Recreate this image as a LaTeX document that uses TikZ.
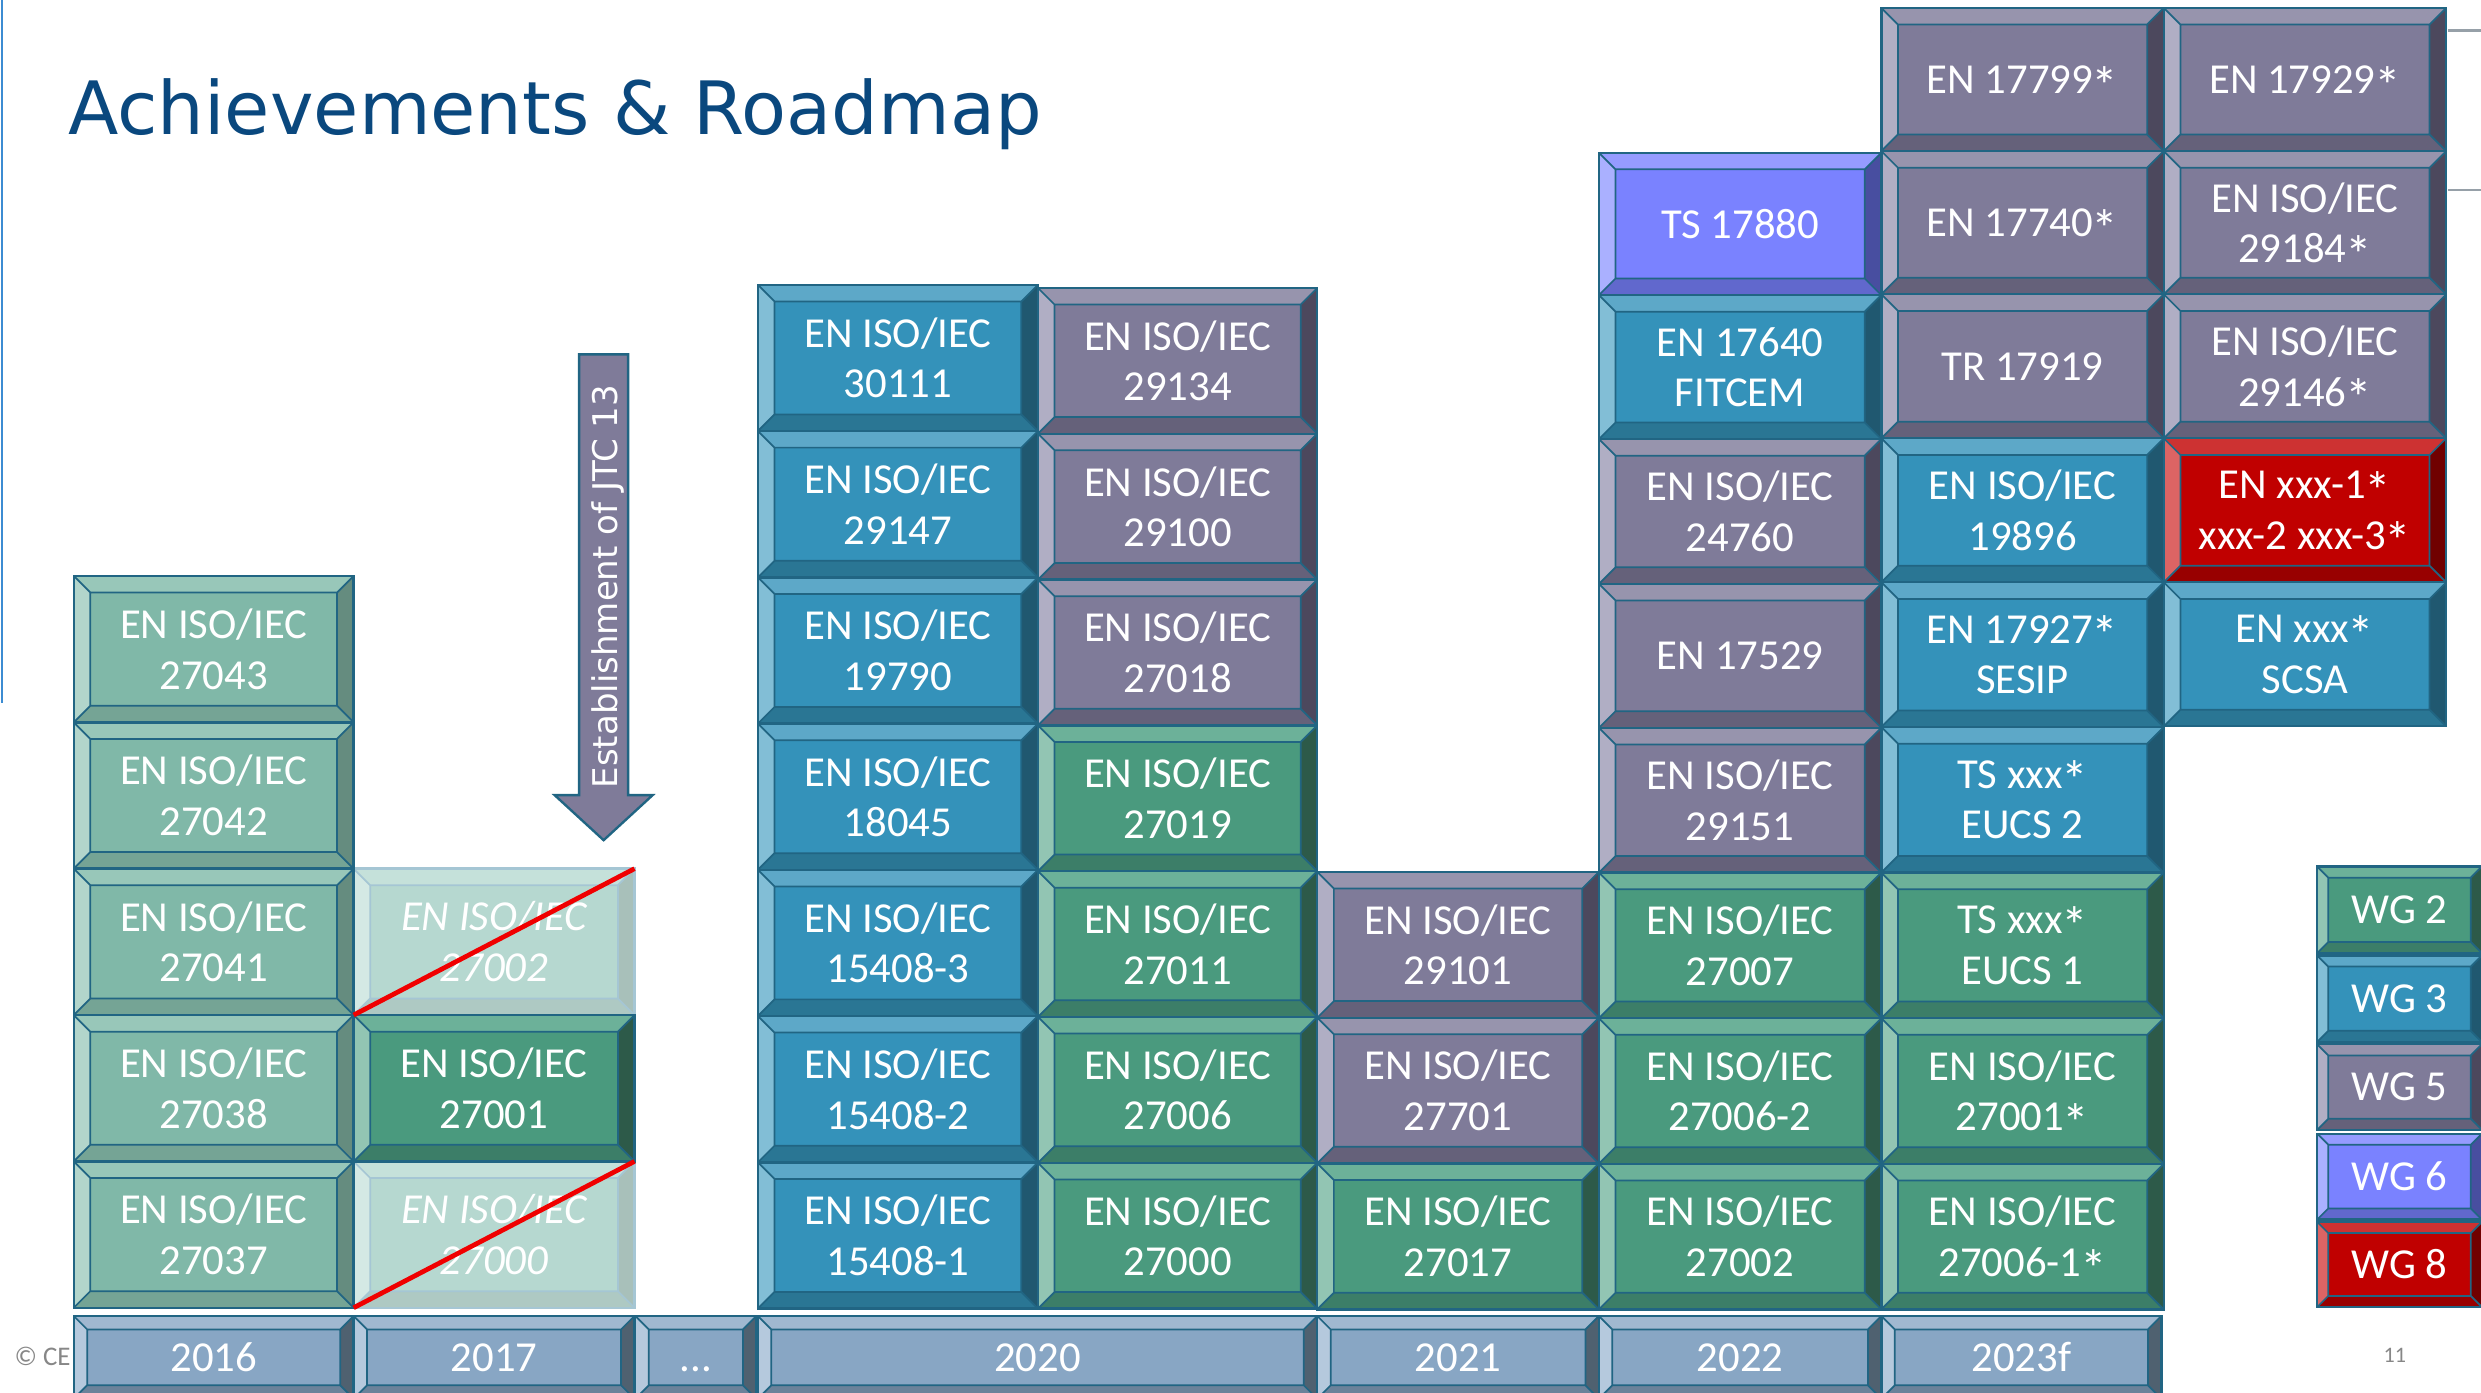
\documentclass[tikz,border=0pt]{standalone}
\usepackage{graphicx}
\usepackage{fontspec}
\setmainfont{Carlito}
\newfontfamily\titlefont{DejaVu Sans}
\usetikzlibrary{calc}

% frame and text colours
\definecolor{edge}{RGB}{33,101,131}
\definecolor{titleblue}{RGB}{10,72,126}
\definecolor{footgray}{RGB}{135,135,135}
\definecolor{sideblue}{RGB}{60,140,210}
\definecolor{rulegray}{RGB}{150,160,168}
\definecolor{strike}{RGB}{240,0,0}
% light green (face, top, left, right, bottom)
\definecolor{lgF}{RGB}{128,184,168}\definecolor{lgT}{RGB}{152,199,185}
\definecolor{lgL}{RGB}{178,213,203}\definecolor{lgR}{RGB}{101,140,127}
\definecolor{lgB}{RGB}{117,164,149}
% dark green
\definecolor{dgF}{RGB}{74,154,126}\definecolor{dgT}{RGB}{108,177,153}
\definecolor{dgL}{RGB}{146,197,179}\definecolor{dgR}{RGB}{45,90,73}
\definecolor{dgB}{RGB}{60,126,104}
% blue
\definecolor{blF}{RGB}{52,146,186}\definecolor{blT}{RGB}{93,168,200}
\definecolor{blL}{RGB}{130,190,214}\definecolor{blR}{RGB}{32,88,112}
\definecolor{blB}{RGB}{42,118,148}
% grey purple
\definecolor{puF}{RGB}{127,123,153}\definecolor{puT}{RGB}{151,148,173}
\definecolor{puL}{RGB}{176,174,196}\definecolor{puR}{RGB}{76,72,93}
\definecolor{puB}{RGB}{101,97,122}
% violet
\definecolor{viF}{RGB}{122,130,255}\definecolor{viT}{RGB}{149,155,255}
\definecolor{viL}{RGB}{170,176,255}\definecolor{viR}{RGB}{72,78,160}
\definecolor{viB}{RGB}{97,104,205}
% red
\definecolor{rdF}{RGB}{192,0,0}\definecolor{rdT}{RGB}{205,50,50}
\definecolor{rdL}{RGB}{220,100,100}\definecolor{rdR}{RGB}{112,0,0}
\definecolor{rdB}{RGB}{152,0,0}
% year bar
\definecolor{yrF}{RGB}{136,166,196}\definecolor{yrT}{RGB}{160,184,208}
\definecolor{yrL}{RGB}{181,201,221}\definecolor{yrR}{RGB}{79,97,112}
\definecolor{yrB}{RGB}{107,130,154}
% withdrawn (faded)
\definecolor{fdF}{RGB}{182,216,208}\definecolor{fdT}{RGB}{197,225,218}
\definecolor{fdL}{RGB}{212,233,228}\definecolor{fdR}{RGB}{168,192,186}
\definecolor{fdB}{RGB}{174,201,195}\definecolor{fdE}{RGB}{165,198,212}

\newcommand\boxfont{\fontsize{27}{32}\selectfont}
% slightly enlarged asterisk marking drafts in progress
\newcommand\astr{\kern-0.03em\smash{\raisebox{-0.25em}{\scalebox{1.25}{*}}}}
\def\bvF{lgF}\def\bvT{lgT}\def\bvL{lgL}\def\bvR{lgR}\def\bvB{lgB}\def\bvE{edge}

% four bevel faces plus the inner frame, drawn inside a node
\newcommand\bevelfaces{%
  \coordinate (oNW) at (path picture bounding box.north west);
  \coordinate (oNE) at (path picture bounding box.north east);
  \coordinate (oSW) at (path picture bounding box.south west);
  \coordinate (oSE) at (path picture bounding box.south east);
  \coordinate (iNW) at ($(oNW)+(\bevd pt,-\bevd pt)$);
  \coordinate (iNE) at ($(oNE)+(-\bevd pt,-\bevd pt)$);
  \coordinate (iSW) at ($(oSW)+(\bevd pt,\bevd pt)$);
  \coordinate (iSE) at ($(oSE)+(-\bevd pt,\bevd pt)$);
  \fill[fill=\bvT] (oNW) -- (oNE) -- (iNE) -- (iNW) -- cycle;
  \fill[fill=\bvL] (oNW) -- (oSW) -- (iSW) -- (iNW) -- cycle;
  \fill[fill=\bvR] (oNE) -- (oSE) -- (iSE) -- (iNE) -- cycle;
  \fill[fill=\bvB] (oSW) -- (oSE) -- (iSE) -- (iSW) -- cycle;
  \draw[draw=\bvE, line width=1.1pt] (iNW) rectangle (iSE)
    (oNW) -- (iNW) (oNE) -- (iNE) (oSW) -- (iSW) (oSE) -- (iSE);
}

\tikzset{
  bevd/.store in=\bevd, bevd=10.5,
  bvset/.code n args={6}{\def\bvF{#1}\def\bvT{#2}\def\bvL{#3}\def\bvR{#4}\def\bvB{#5}\def\bvE{#6}},
  bevel/.style={shape=rectangle, draw=\bvE, fill=\bvF, line width=1.5pt,
    inner sep=0pt, outer sep=0pt, text=white, align=center, font=\boxfont,
    path picture={\bevelfaces}},
  lgreen/.style={bvset={lgF}{lgT}{lgL}{lgR}{lgB}{edge}, bevel},
  dgreen/.style={bvset={dgF}{dgT}{dgL}{dgR}{dgB}{edge}, bevel},
  blue/.style={bvset={blF}{blT}{blL}{blR}{blB}{edge}, bevel},
  purple/.style={bvset={puF}{puT}{puL}{puR}{puB}{edge}, bevel},
  violet/.style={bvset={viF}{viT}{viL}{viR}{viB}{edge}, bevel},
  redbox/.style={bvset={rdF}{rdT}{rdL}{rdR}{rdB}{edge}, bevel},
  yearbar/.style={bvset={yrF}{yrT}{yrL}{yrR}{yrB}{edge}, bevel, bevd=8.5},
  withdrawn/.style={bvset={fdF}{fdT}{fdL}{fdR}{fdB}{fdE}, bevel, font=\boxfont\itshape},
  legend/.style={bevd=7},
  strikeout/.style={draw=strike, line width=3pt},
  jtcarrow/.style={fill=puF, draw=edge, line width=1.5pt, line join=miter},
  jtctext/.style={text=white, inner sep=0pt, font=\titlefont\fontsize{21.5}{26}\selectfont},
  footer/.style={text=footgray, inner sep=0pt},
}

% \slab{name}{style}{x0}{y0}{x1}{y1}{text}
\newcommand\slab[7]{%
  \pgfmathsetmacro\slw{#5-#3}\pgfmathsetmacro\slh{#6-#4}%
  \node[#2, minimum width=\slw pt, minimum height=\slh pt] (#1)
    at ({(#3+#5)/2},{(#4+#6)/2}) {#7};%
}

\begin{document}
\begin{tikzpicture}[x=1pt, y=-1pt]
\useasboundingbox (0,0) rectangle (1568,880);
\clip (0,0) rectangle (1568,880);

% page furniture
\coordinate (sideTop) at (1,0);
\coordinate (sideBot) at (1,444);
\draw[sideblue, line width=1.3pt] (sideTop) -- (sideBot);
\coordinate (ruleAa) at (1547,19.4);
\coordinate (ruleAb) at (1570,19.4);
\coordinate (ruleBa) at (1547,120);
\coordinate (ruleBb) at (1570,120);
\draw[rulegray, line width=1.7pt] (ruleAa) -- (ruleAb) (ruleBa) -- (ruleBb);

\node[anchor=base west, inner sep=0pt, text=titleblue,
      font=\titlefont\fontsize{46.5}{56}\selectfont] (title) at (43,84.7)
      {Achievements \& Roadmap};

\node[footer, anchor=base west, font=\fontsize{17}{20}\selectfont] (copy) at (9,862.7) {© CE};
\node[footer, anchor=base, font=\fontsize{14}{17}\selectfont] (page) at (1513.6,861) {11};

% 2017: withdrawn standards first, so neighbours' frames lie on top
\slab{c17a}{withdrawn}{223.5}{549}{401}{641.5}{EN ISO/IEC\\27002}
\slab{c17c}{withdrawn}{223.5}{734}{401}{826.5}{EN ISO/IEC\\27000}
\slab{c17b}{dgreen}{223.5}{641.5}{401}{734}{EN ISO/IEC\\27001}

% 2016
\slab{c16a}{lgreen}{46.6}{364}{223.5}{456.5}{EN ISO/IEC\\27043}
\slab{c16b}{lgreen}{46.6}{456.5}{223.5}{549}{EN ISO/IEC\\27042}
\slab{c16c}{lgreen}{46.6}{549}{223.5}{641.5}{EN ISO/IEC\\27041}
\slab{c16d}{lgreen}{46.6}{641.5}{223.5}{734}{EN ISO/IEC\\27038}
\slab{c16e}{lgreen}{46.6}{734}{223.5}{826.5}{EN ISO/IEC\\27037}

% 2020, first column
\slab{c20a1}{blue}{479}{180}{656}{272.4}{EN ISO/IEC\\30111}
\slab{c20a2}{blue}{479}{272.4}{656}{364.9}{EN ISO/IEC\\29147}
\slab{c20a3}{blue}{479}{364.9}{656}{457.3}{EN ISO/IEC\\19790}
\slab{c20a4}{blue}{479}{457.3}{656}{549.7}{EN ISO/IEC\\18045}
\slab{c20a5}{blue}{479}{549.7}{656}{642.1}{EN ISO/IEC\\15408-3}
\slab{c20a6}{blue}{479}{642.1}{656}{734.6}{EN ISO/IEC\\15408-2}
\slab{c20a7}{blue}{479}{734.6}{656}{827}{EN ISO/IEC\\15408-1}

% 2020, second column
\slab{c20b1}{purple}{656}{182}{832.5}{274.1}{EN ISO/IEC\\29134}
\slab{c20b2}{purple}{656}{274.1}{832.5}{366.3}{EN ISO/IEC\\29100}
\slab{c20b3}{purple}{656}{366.3}{832.5}{458.4}{EN ISO/IEC\\27018}
\slab{c20b4}{dgreen}{656}{458.4}{832.5}{550.6}{EN ISO/IEC\\27019}
\slab{c20b5}{dgreen}{656}{550.6}{832.5}{642.7}{EN ISO/IEC\\27011}
\slab{c20b6}{dgreen}{656}{642.7}{832.5}{734.9}{EN ISO/IEC\\27006}
\slab{c20b7}{dgreen}{656}{734.9}{832.5}{827}{EN ISO/IEC\\27000}

% 2021
\slab{c21a}{purple}{832.5}{551}{1010.5}{643.2}{EN ISO/IEC\\29101}
\slab{c21b}{purple}{832.5}{643.2}{1010.5}{735.3}{EN ISO/IEC\\27701}
\slab{c21c}{dgreen}{832.5}{735.3}{1010.5}{827.5}{EN ISO/IEC\\27017}

% 2022
\slab{c22a}{violet}{1010.5}{96.5}{1189}{186.5}{TS 17880}
\slab{c22b}{blue}{1010.5}{186.5}{1189}{277.5}{EN 17640\\FITCEM}
\slab{c22c}{purple}{1010.5}{277.5}{1189}{369}{EN ISO/IEC\\24760}
\slab{c22d}{purple}{1010.5}{369}{1189}{460}{EN 17529}
\slab{c22e}{purple}{1010.5}{460}{1189}{551.5}{EN ISO/IEC\\29151}
\slab{c22f}{dgreen}{1010.5}{551.5}{1189}{643.5}{EN ISO/IEC\\27007}
\slab{c22g}{dgreen}{1010.5}{643.5}{1189}{735.5}{EN ISO/IEC\\27006-2}
\slab{c22h}{dgreen}{1010.5}{735.5}{1189}{827.5}{EN ISO/IEC\\27002}

% 2023f, first column
\slab{c23a1}{purple}{1189}{5}{1367.5}{95.5}{EN 17799\astr}
\slab{c23a2}{purple}{1189}{95.5}{1367.5}{186}{EN 17740\astr}
\slab{c23a3}{purple}{1189}{186}{1367.5}{277}{TR 17919}
\slab{c23a4}{blue}{1189}{277}{1367.5}{368}{EN ISO/IEC\\19896}
\slab{c23a5}{blue}{1189}{368}{1367.5}{459.5}{EN 17927\astr\\SESIP}
\slab{c23a6}{blue}{1189}{459.5}{1367.5}{551.5}{TS xxx\astr\\EUCS 2}
\slab{c23a7}{dgreen}{1189}{551.5}{1367.5}{643.5}{TS xxx\astr\\EUCS 1}
\slab{c23a8}{dgreen}{1189}{643.5}{1367.5}{735.5}{EN ISO/IEC\\27001\astr}
\slab{c23a9}{dgreen}{1189}{735.5}{1367.5}{827.5}{EN ISO/IEC\\27006-1\astr}

% 2023f, second column
\slab{c23b1}{purple}{1367.5}{5}{1546}{95.5}{EN 17929\astr}
\slab{c23b2}{purple}{1367.5}{95.5}{1546}{186}{EN ISO/IEC\\29184\astr}
\slab{c23b3}{purple}{1367.5}{186}{1546}{277}{EN ISO/IEC\\29146\astr}
\slab{c23b4}{redbox}{1367.5}{277}{1546}{368}{EN xxx-1\astr\\xxx-2 xxx-3\astr}
\slab{c23b5}{blue}{1367.5}{368}{1546}{459}{EN xxx\astr\\SCSA}

% working group legend
\slab{wg2}{dgreen,legend}{1464.5}{547.7}{1568.5}{602.3}{WG 2}
\slab{wg3}{blue,legend}{1464.5}{603.9}{1568.5}{658.5}{WG 3}
\slab{wg5}{purple,legend}{1464.5}{660}{1568.5}{714}{WG 5}
\slab{wg6}{violet,legend}{1464.5}{716.5}{1568.5}{770.7}{WG 6}
\slab{wg8}{redbox,legend}{1464.5}{772.3}{1568.5}{826}{WG 8}

% timeline
\slab{y2016}{yearbar}{46.6}{831.7}{223.5}{884}{2016}
\slab{y2017}{yearbar}{223.5}{831.7}{401}{884}{2017}
\slab{ygap}{yearbar}{401.5}{831.7}{478}{884}{\vphantom{0}...}
\slab{y2020}{yearbar}{479}{831.7}{832.5}{884}{2020}
\slab{y2021}{yearbar}{832.5}{831.7}{1010.5}{884}{2021}
\slab{y2022}{yearbar}{1010.5}{831.7}{1189}{884}{2022}
\slab{y2023}{yearbar}{1189}{831.7}{1366}{884}{2023f}

% withdrawn standards struck out
\draw[strikeout] (c17a.south west) -- (c17a.north east);
\draw[strikeout] (c17c.south west) -- (c17c.north east);

% JTC 13 arrow
\draw[jtcarrow] (366,224) -- (397,224) -- (397,502.5) -- (412.5,502.5)
  -- (381.5,531) -- (350.5,502.5) -- (366,502.5) -- cycle;
\node[jtctext, rotate=90, anchor=base] (jtc) at (390,370.8) {Establishment of JTC 13};
\end{tikzpicture}
\end{document}
